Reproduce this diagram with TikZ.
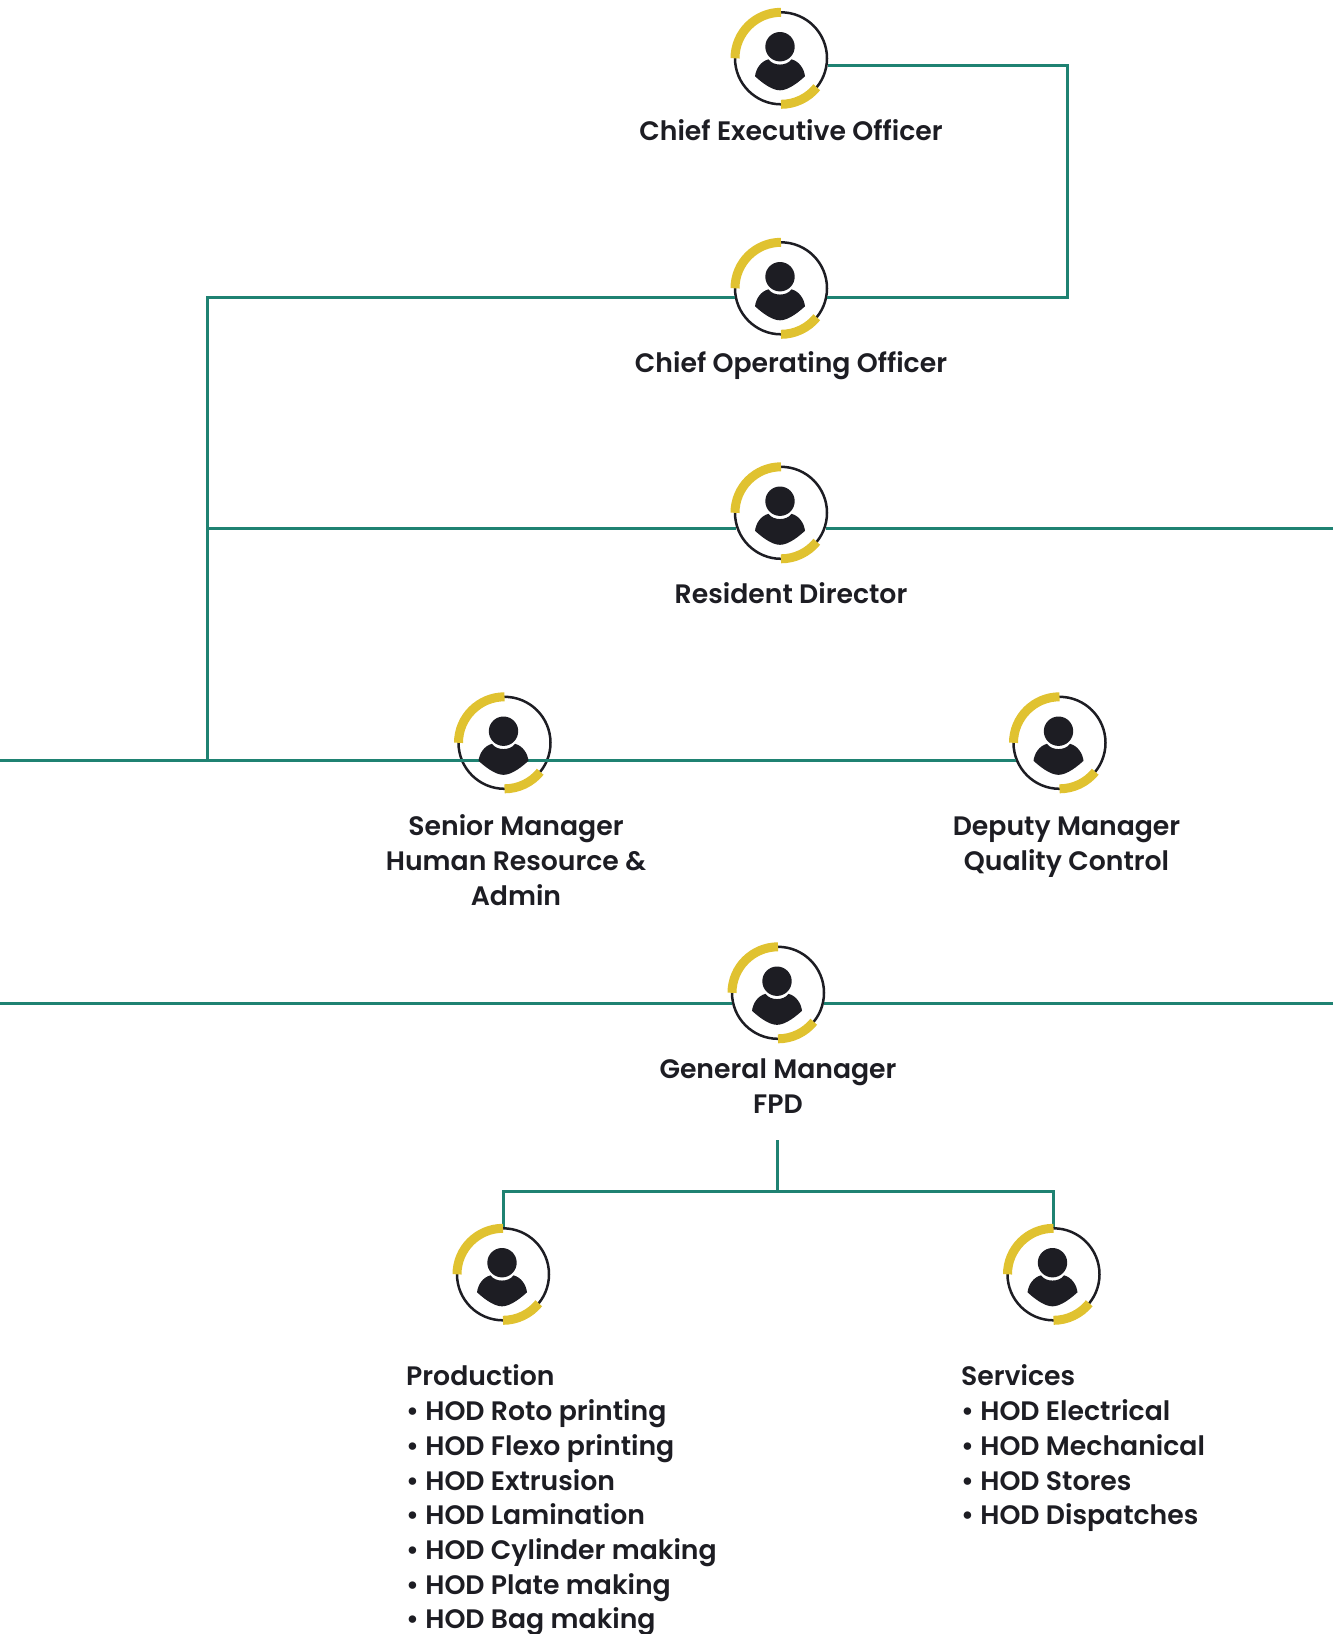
\documentclass[tikz,border=0pt]{standalone}
\usepackage{fontspec}
\setmainfont{Poppins}[UprightFont=* SemiBold]
\usetikzlibrary{positioning}
\definecolor{linegreen}{HTML}{1F8272}
\definecolor{ringyellow}{HTML}{E0C230}
\definecolor{inkdark}{HTML}{1D1D23}

\tikzset{
    role/.style={circle, draw=inkdark, line width=2.5pt, minimum size=92pt, inner sep=0pt},
    title/.style={text=inkdark, align=center, font=\fontsize{26.7}{34.7}\selectfont, inner sep=0pt},
    list/.style={title, align=left},
    link/.style={draw=linegreen, line width=3pt},
    pics/person/.style={code={
        \draw[ringyellow, line width=9pt] (180:46pt) arc (180:90:46pt);
        \draw[ringyellow, line width=9pt] (270:46pt) arc (270:321:46pt);
        \fill[inkdark] (-1pt,11.6pt) circle (14.7pt);
        \fill[inkdark] (-12.5pt,-1pt) .. controls (-8pt,-8pt) and (6pt,-8pt) .. (10.5pt,-1pt)
            .. controls (18pt,-3pt) and (23pt,-10pt) .. (24pt,-18pt)
            .. controls (13pt,-28pt) and (5pt,-32pt) .. (-1pt,-32pt)
            .. controls (-7pt,-32pt) and (-15pt,-28pt) .. (-26pt,-18pt)
            .. controls (-25pt,-10pt) and (-20pt,-3pt) .. cycle;
    }}
}

\begin{document}
\begin{tikzpicture}[node distance=224pt]
    \useasboundingbox (0,0) rectangle (1333pt,-1634pt);

    \node[role] (ceo) at (781pt,-58.3pt) {};
    \node[role] (coo) [below of=ceo, node distance=230pt] {};
    \node[role] (rd) [below of=coo, node distance=224.5pt] {};
    \node[role] (hr) [below of=rd, xshift=-276.5pt, node distance=230pt] {};
    \node[role] (qc) [below of=rd, xshift=278.5pt, node distance=230pt] {};
    \node[role] (gm) [below of=rd, xshift=-3pt, node distance=480pt] {};
    \node[role] (prod) [below of=gm, xshift=-275pt, node distance=281.5pt] {};
    \node[role] (serv) [below of=gm, xshift=275.5pt, node distance=281.5pt] {};

    \node[title] (ceotext) [below of=ceo, xshift=10pt, node distance=72pt] {Chief Executive Officer};
    \node[title] (cootext) [below of=coo, xshift=10pt, node distance=77.5pt] {Chief Operating Officer};
    \node[title] (rdtext) [below of=rd, xshift=10pt, node distance=80.5pt] {Resident Director};
    \node[title] (hrtext) [below of=hr, xshift=11.5pt, node distance=117.5pt] {Senior Manager\\Human Resource \&\\Admin};
    \node[title] (qctext) [below of=qc, xshift=7pt, node distance=104.5pt] {Deputy Manager\\Quality Control};
    \node[title] (gmtext) [below of=gm, node distance=93.5pt] {General Manager\\FPD};
    \node[list] (prodtext) [below of=prod, anchor=north west, xshift=-97pt, yshift=-90.5pt, node distance=0pt] {Production\\• HOD Roto printing\\• HOD Flexo printing\\• HOD Extrusion\\• HOD Lamination\\• HOD Cylinder making\\• HOD Plate making\\• HOD Bag making};
    \node[list] (servtext) [below of=serv, anchor=north west, xshift=-92.5pt, yshift=-90.5pt, node distance=0pt] {Services\\• HOD Electrical\\• HOD Mechanical\\• HOD Stores\\• HOD Dispatches};

    \coordinate (ceoturn) at (1067pt,-65.7pt);
    \coordinate (trunk) at (207pt,-297pt);
    \coordinate (rdright) at (1333pt,-528.7pt);
    \coordinate (hrleft) at (0pt,-760.5pt);
    \coordinate (gmleft) at (0pt,-1003.5pt);
    \coordinate (gmright) at (1333pt,-1003.5pt);
    \coordinate (stemtop) at (777.5pt,-1140pt);
    \coordinate (stemfoot) at (777.5pt,-1191pt);

    \path[link] (ceo.east |- ceoturn) -- (ceoturn) |- (coo.-11.6);
    \path[link] (coo.191.6) -| (hrleft -| trunk);
    \path[link] (rd.199.8 -| trunk) -- (rd.199.8);
    \path[link] (rd.-19.8) -- (rdright |- rd.-19.8);
    \path[link] (hrleft) -- (hrleft -| qc.203);
    \path[link] (gmleft) -- (gmleft -| gm.194.5);
    \path[link] (gmright -| gm.-14.5) -- (gmright);
    \path[link] (stemtop) -- (stemfoot);
    \path[link] (prod.north) |- (stemfoot) -| (serv.north);

    \pic at (ceo) {person};
    \pic at (coo) {person};
    \pic at (rd) {person};
    \pic at (hr) {person};
    \pic at (qc) {person};
    \pic at (gm) {person};
    \pic at (prod) {person};
    \pic at (serv) {person};
\end{tikzpicture}
\end{document}
